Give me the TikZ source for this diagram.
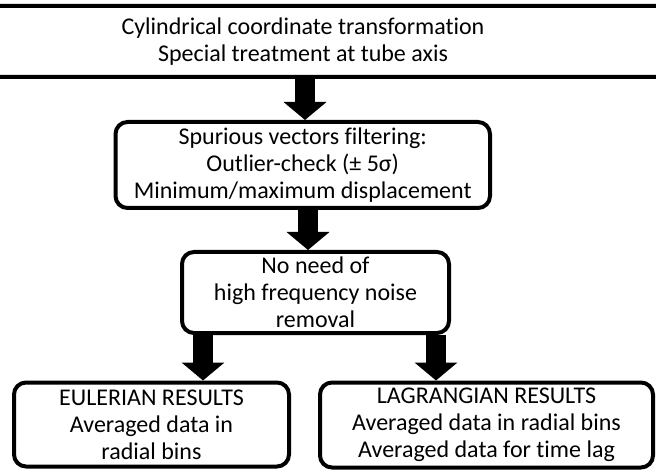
\documentclass[tikz,border=0pt]{standalone}
\usepackage{fontspec}
\setmainfont[Ligatures=NoCommon]{Carlito}
\usetikzlibrary{arrows.meta, positioning}

\begin{document}
\begin{tikzpicture}[x=1pt,y=-1pt,fat/.style={line width=20pt,-{Triangle[width=42pt,length=18pt]}},box/.style={draw, line width=4pt, rounded corners=12pt, inner sep=0pt}]
		\fontsize{24}{27}\selectfont
		\path[use as bounding box, clip] (0,0) rectangle (656,473);

		\node[align=center, box, minimum width=800pt, minimum height=71pt	] (TRANSFORM)	at (303,41.5)		{Cylindrical coordinate transformation\\Special treatment at tube axis};
		\node[align=center, box, minimum width=374.5pt, minimum height=86pt	] (FILTER)		at (302.75,165)		{Spurious vectors filtering:\\Outlier-check (± 5σ)\\Minimum/maximum displacement};
		\node[align=center, box, minimum width=267pt, minimum height=81pt	] (NOISE)		at (315.5,292.5)	{No need of\\high frequency noise\\removal};
		\node[align=center, box, minimum width=275pt, minimum height=84pt	] (EULER)		at (151.5,424.5)	{EULERIAN RESULTS\\Averaged data in\\radial bins};
		\node[align=center, box, minimum width=333pt, minimum height=85pt	] (LAGRANGE)	at (486.5,425)		{LAGRANGIAN RESULTS\\Averaged data in radial bins\\Averaged data for time lag};

		\coordinate (ARR1) at (305,0);
		\coordinate (ARR2) at (308,0);
		\coordinate (ARR_L) at (203,0);
		\coordinate (ARR_R) at (436,0);

		\draw[fat]	(TRANSFORM.south -| ARR1)	--	(FILTER.north -| ARR1);
		\draw[fat]	(FILTER.south -| ARR2)		--	(NOISE.north -| ARR2);
		\draw[fat]	(NOISE.south -| ARR_L)		--	(EULER.north -| ARR_L);
		\draw[fat]	(NOISE.south -| ARR_R)		--	(LAGRANGE.north -| ARR_R);
\end{tikzpicture}
\end{document}
